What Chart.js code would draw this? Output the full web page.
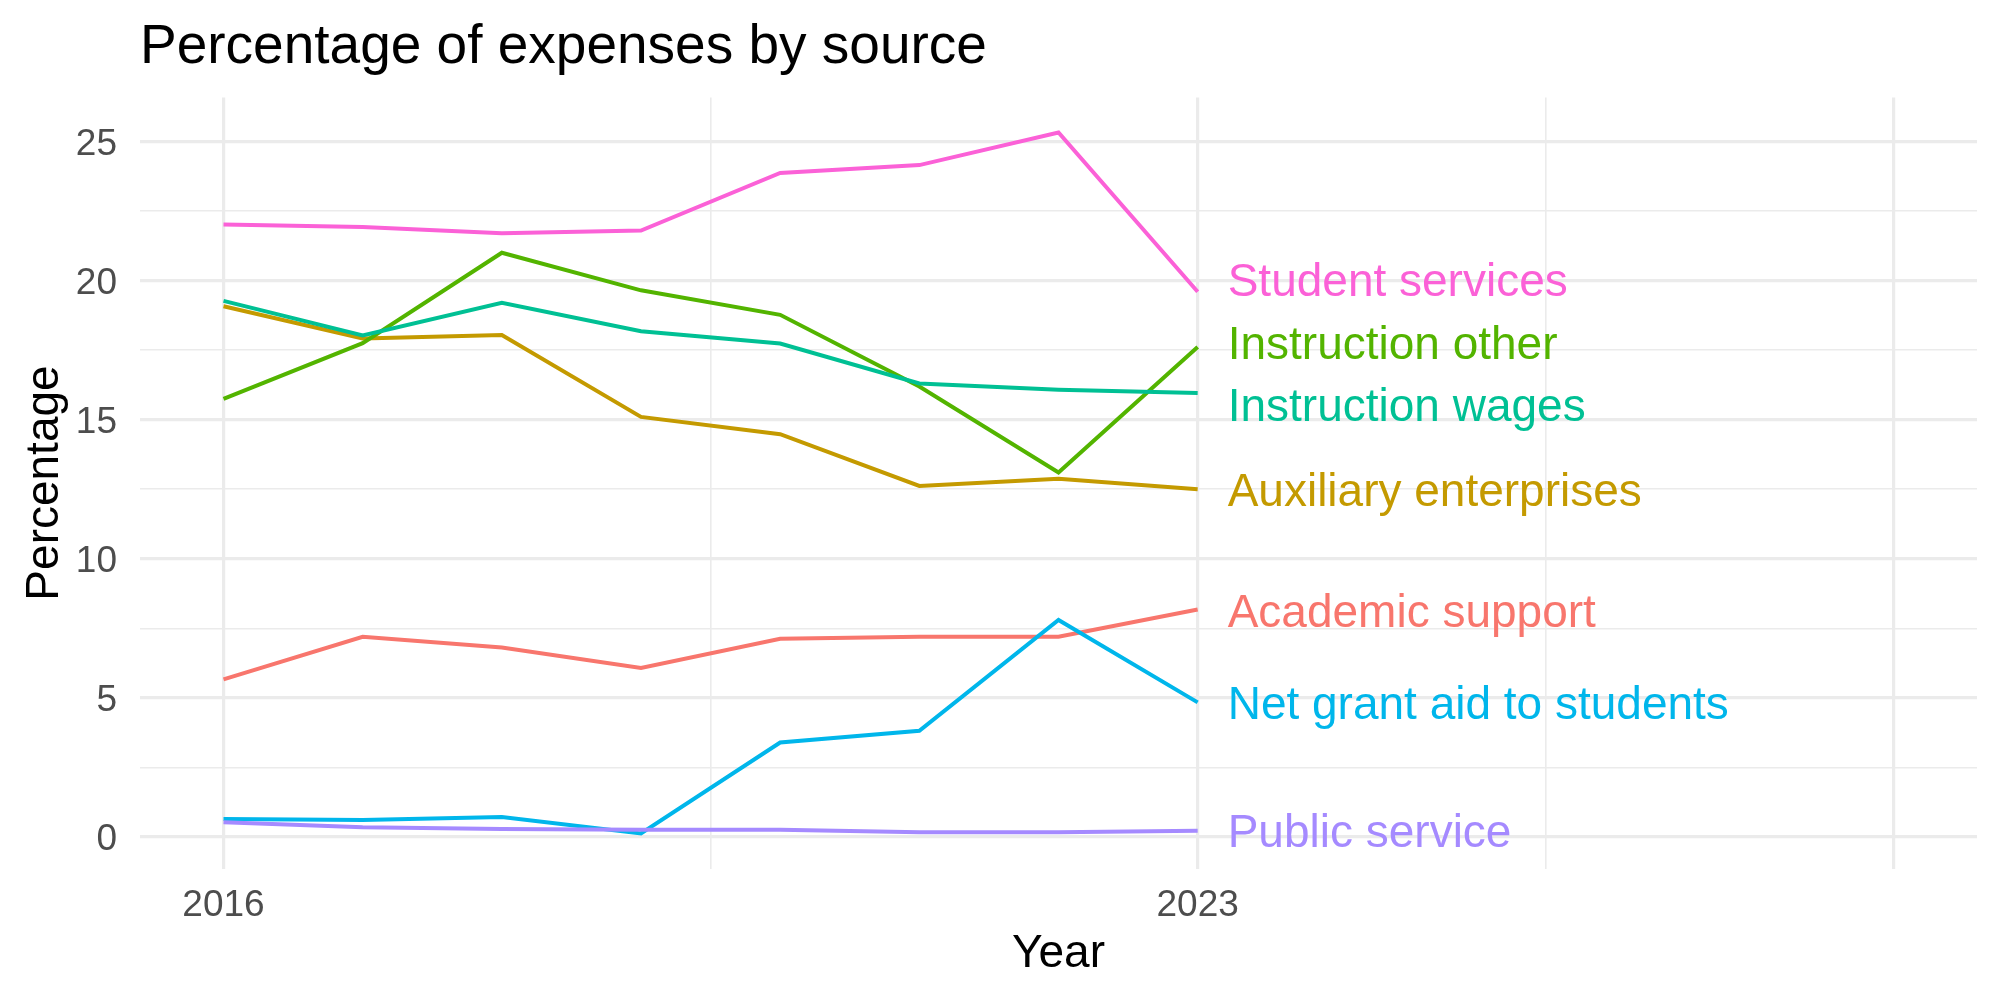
<!DOCTYPE html>
<html>
<head>
<meta charset="utf-8">
<script src="https://cdn.jsdelivr.net/npm/chart.js@4.4.1/dist/chart.umd.min.js"></script>
<style>
  body { margin: 0; background: #fff; }
  #wrap { width: 2000px; height: 1000px; }
</style>
</head>
<body>
<div id="wrap"><canvas id="chart" width="2000" height="1000"></canvas></div>
<script>
// data
var years = [2016, 2017, 2018, 2019, 2020, 2021, 2022, 2023];

var academicSupport   = [5.67, 7.20, 6.81, 6.08, 7.13, 7.20, 7.20, 8.18];
var auxiliary         = [19.08, 17.92, 18.04, 15.10, 14.48, 12.62, 12.88, 12.50];
var instructionOther  = [15.75, 17.75, 21.00, 19.65, 18.77, 16.19, 13.10, 17.61];
var instructionWages  = [19.27, 18.03, 19.20, 18.18, 17.74, 16.30, 16.08, 15.96];
var netGrantAid       = [0.65, 0.61, 0.72, 0.13, 3.40, 3.82, 7.80, 4.84];
var publicService     = [0.53, 0.35, 0.29, 0.26, 0.26, 0.17, 0.17, 0.23];
var studentServices   = [22.02, 21.93, 21.70, 21.80, 23.87, 24.15, 25.32, 19.60];

var seriesNames = ["Academic support", "Auxiliary enterprises", "Instruction other",
  "Instruction wages", "Net grant aid to students", "Public service", "Student services"];
var seriesValues = [academicSupport, auxiliary, instructionOther, instructionWages,
  netGrantAid, publicService, studentServices];
var seriesColors = ["#F8766D", "#C49A00", "#53B400", "#00C094", "#00B6EB", "#A58AFF", "#FB61D7"];

// where the end labels sit (repelled a bit from the line ends)
var labelY = [8.12, 12.47, 17.73, 15.50, 4.82, 0.19, 20.00];
var labelYear = 2023;

var xTicks = [2016, 2019.5, 2023, 2025.5, 2028];
var xMajor = [2016, 2023, 2028];
var xLabels = [2016, 2023];
var yTicks = [0, 2.5, 5, 7.5, 10, 12.5, 15, 17.5, 20, 22.5, 25];

var FONT = "'Liberation Sans', Arial, Helvetica, sans-serif";

var datasets = [];
for (var i = 0; i < seriesNames.length; i++) {
  var pts = [];
  for (var j = 0; j < years.length; j++) {
    pts.push({ x: years[j], y: seriesValues[i][j] });
  }
  datasets.push({
    label: seriesNames[i],
    data: pts,
    borderColor: seriesColors[i],
    backgroundColor: seriesColors[i],
    borderWidth: 4,
    pointRadius: 0,
    tension: 0,
    fill: false,
    order: seriesNames.length - i
  });
}

var endLabels = {
  id: 'endLabels',
  afterDatasetsDraw: function(chart) {
    var ctx = chart.ctx;
    var xs = chart.scales.x, ys = chart.scales.y;
    ctx.save();
    ctx.font = "46px " + FONT;
    ctx.textAlign = 'left';
    ctx.textBaseline = 'middle';
    for (var i = 0; i < seriesNames.length; i++) {
      ctx.fillStyle = seriesColors[i];
      ctx.fillText(seriesNames[i], xs.getPixelForValue(labelYear) + 30, ys.getPixelForValue(labelY[i]) + 3);
    }
    ctx.restore();
  }
};

var plotTitle = {
  id: 'plotTitle',
  afterDraw: function(chart) {
    var ctx = chart.ctx;
    ctx.save();
    ctx.font = "55px " + FONT;
    ctx.fillStyle = '#000';
    ctx.textAlign = 'left';
    ctx.textBaseline = 'alphabetic';
    ctx.fillText("Percentage of expenses by source", chart.chartArea.left, 63);
    ctx.restore();
  }
};

new Chart(document.getElementById("chart"), {
  type: 'line',
  data: { datasets: datasets },
  options: {
    responsive: false,
    animation: false,
    devicePixelRatio: 1,
    layout: { padding: { top: 97.5, right: 23, left: 0, bottom: 0 } },
    plugins: {
      legend: { display: false },
      tooltip: { enabled: false },
      title: { display: false }
    },
    scales: {
      x: {
        type: 'linear',
        min: 2015.4,
        max: 2028.6,
        afterBuildTicks: function(axis) {
          axis.ticks = xTicks.map(function(v) { return { value: v }; });
        },
        afterFit: function(axis) { axis.height = 131.5; },
        ticks: {
          autoSkip: false,
          maxRotation: 0,
          padding: 15.5,
          color: '#4D4D4D',
          font: { family: FONT, size: 37 },
          callback: function(v) { return xLabels.indexOf(v) >= 0 ? String(v) : ''; }
        },
        grid: {
          drawTicks: false,
          color: '#EBEBEB',
          lineWidth: function(c) { return xMajor.indexOf(c.tick.value) >= 0 ? 3.2 : 1.6; }
        },
        border: { display: false },
        title: {
          display: true,
          text: 'Year',
          color: '#000',
          font: { family: FONT, size: 46 },
          padding: { top: 0, bottom: 18.5 }
        }
      },
      y: {
        type: 'linear',
        min: -1.13,
        max: 26.58,
        afterBuildTicks: function(axis) {
          axis.ticks = yTicks.map(function(v) { return { value: v }; });
        },
        afterFit: function(axis) { axis.width = 140; },
        ticks: {
          autoSkip: false,
          padding: 23,
          labelOffset: 3,
          color: '#4D4D4D',
          font: { family: FONT, size: 37 },
          callback: function(v) { return v % 5 === 0 ? String(v) : ''; }
        },
        grid: {
          drawTicks: false,
          color: '#EBEBEB',
          lineWidth: function(c) { return c.tick.value % 5 === 0 ? 3.2 : 1.6; }
        },
        border: { display: false },
        title: {
          display: true,
          text: 'Percentage',
          color: '#000',
          font: { family: FONT, size: 46 },
          padding: { top: 17.5, bottom: 0 }
        }
      }
    }
  },
  plugins: [endLabels, plotTitle]
});
</script>
</body>
</html>
